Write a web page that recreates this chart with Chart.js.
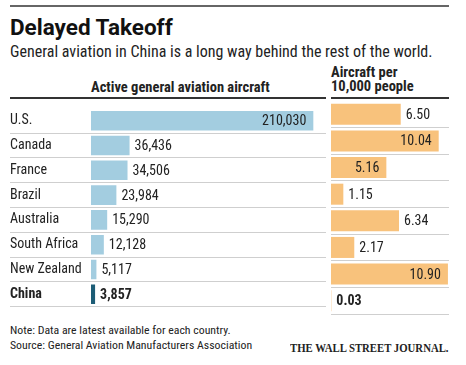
<!DOCTYPE html>
<html>
<head>
<meta charset="utf-8">
<script src="https://cdn.jsdelivr.net/npm/chart.js@4.4.1/dist/chart.umd.min.js"></script>
<style>
  body { margin: 0; background: #fff; }
  #wrap { position: relative; width: 466px; height: 365px; overflow: hidden;
          font-family: "Liberation Sans Narrow", "Roboto Condensed", Roboto, sans-serif; color: #222; }
  .t { position: absolute; white-space: nowrap; }
  .rule { position: absolute; }
  canvas { position: absolute; }
</style>
</head>
<body>
<div id="wrap">
  <div class="rule" style="left:10px;top:5px;width:439px;height:2px;background:#666"></div>
  <div class="t" style="left:10px;top:14px;font-family:Roboto,sans-serif;font-size:22.5px;font-weight:bold;line-height:26px;color:#111">Delayed Takeoff</div>
  <div class="t" style="left:10px;top:43px;font-size:16px;line-height:18px">General aviation in China is a long way behind the rest of the world.</div>
  <div class="t" style="left:91px;top:80px;font-size:14.5px;font-weight:bold;line-height:15px">Active general aviation aircraft</div>
  <div class="t" style="left:331px;top:66px;font-size:14.5px;font-weight:bold;line-height:14px">Aircraft per<br>10,000 people</div>
  <div class="rule" style="left:10px;top:97px;width:316px;height:2px;background:#333"></div>
  <div class="rule" style="left:331px;top:97px;width:118px;height:2px;background:#333"></div>
  <canvas id="left" width="316" height="215" style="left:10px;top:100px"></canvas>
  <canvas id="right" width="118" height="215" style="left:331px;top:100px"></canvas>
  <div class="t" style="left:10px;top:324px;font-size:11.8px;line-height:13px">Note: Data are latest available for each country.</div>
  <div class="t" style="left:10px;top:339px;font-size:11.8px;line-height:13px">Source: General Aviation Manufacturers Association</div>
  <div class="t" style="left:290px;top:341px;font-family:'Liberation Serif','DejaVu Serif',serif;font-weight:bold;font-size:12.5px;line-height:14px;transform:scaleX(0.86);transform-origin:left top">THE WALL STREET JOURNAL.</div>
</div>
<script>
const countries = ['U.S.', 'Canada', 'France', 'Brazil', 'Australia', 'South Africa', 'New Zealand', 'China'];
const activeAircraft = [210030, 36436, 34506, 23984, 15290, 12128, 5117, 3857];
const aircraftPer10k = [6.50, 10.04, 5.16, 1.15, 6.34, 2.17, 10.90, 0.03];

const FONT = '"Liberation Sans Narrow", "Roboto Condensed", Roboto, sans-serif';

// writes the value next to (or inside) the end of each bar
const valueLabels = {
  id: 'valueLabels',
  afterDatasetsDraw(chart, args, opts) {
    const ctx = chart.ctx;
    const values = chart.data.datasets[0].data;
    chart.getDatasetMeta(0).data.forEach((bar, i) => {
      const name = chart.data.labels[i];
      const inside = opts.inside.includes(name);
      ctx.save();
      ctx.font = (name === 'China' ? 'bold ' : '') + '14px ' + FONT;
      ctx.fillStyle = '#222';
      ctx.textBaseline = 'middle';
      ctx.textAlign = inside ? 'right' : 'left';
      ctx.fillText(opts.format(values[i]), inside ? bar.x - 7 : bar.x + 5, bar.y + 1);
      ctx.restore();
    });
  }
};

const sepColor = c => c.index === 0 ? 'rgba(0,0,0,0)' : '#cfcfcf';

new Chart(document.getElementById('left'), {
  type: 'bar',
  data: {
    labels: countries,
    datasets: [{
      data: activeAircraft,
      backgroundColor: countries.map(c => c === 'China' ? '#1d5d76' : '#a3cde0'),
      categoryPercentage: 1,
      barPercentage: 0.79
    }]
  },
  options: {
    indexAxis: 'y',
    responsive: false,
    animation: false,
    events: [],
    layout: { padding: { top: 1, bottom: 1, left: 0, right: 0 } },
    plugins: {
      legend: { display: false },
      tooltip: { enabled: false },
      valueLabels: {
        inside: ['U.S.'],
        format: v => v.toLocaleString('en-US')
      }
    },
    scales: {
      x: { display: false, min: 0, max: 222000 },
      y: {
        border: { display: false },
        grid: { offset: true, color: sepColor, lineWidth: 1, drawTicks: true, tickLength: 81 },
        ticks: {
          crossAlign: 'far',
          padding: 0,
          color: '#222',
          font: c => ({ family: FONT, size: 14, weight: countries[c.index] === 'China' ? 'bold' : 'normal' })
        },
        afterFit: s => { s.width = 81; }
      }
    }
  },
  plugins: [valueLabels]
});

new Chart(document.getElementById('right'), {
  type: 'bar',
  data: {
    labels: countries,
    datasets: [{
      data: aircraftPer10k,
      backgroundColor: '#f8c27c',
      categoryPercentage: 1,
      barPercentage: 0.79
    }]
  },
  options: {
    indexAxis: 'y',
    responsive: false,
    animation: false,
    events: [],
    layout: { padding: { top: 1, bottom: 1, left: 0, right: 0 } },
    plugins: {
      legend: { display: false },
      tooltip: { enabled: false },
      valueLabels: {
        inside: ['Canada', 'France', 'New Zealand'],
        format: v => v.toFixed(2)
      }
    },
    scales: {
      x: { display: false, min: 0, max: 11 },
      y: {
        border: { display: false },
        grid: { offset: true, color: sepColor, lineWidth: 1, drawTicks: false },
        ticks: { display: false },
        afterFit: s => { s.width = 0; }
      }
    }
  },
  plugins: [valueLabels]
});
</script>
</body>
</html>
